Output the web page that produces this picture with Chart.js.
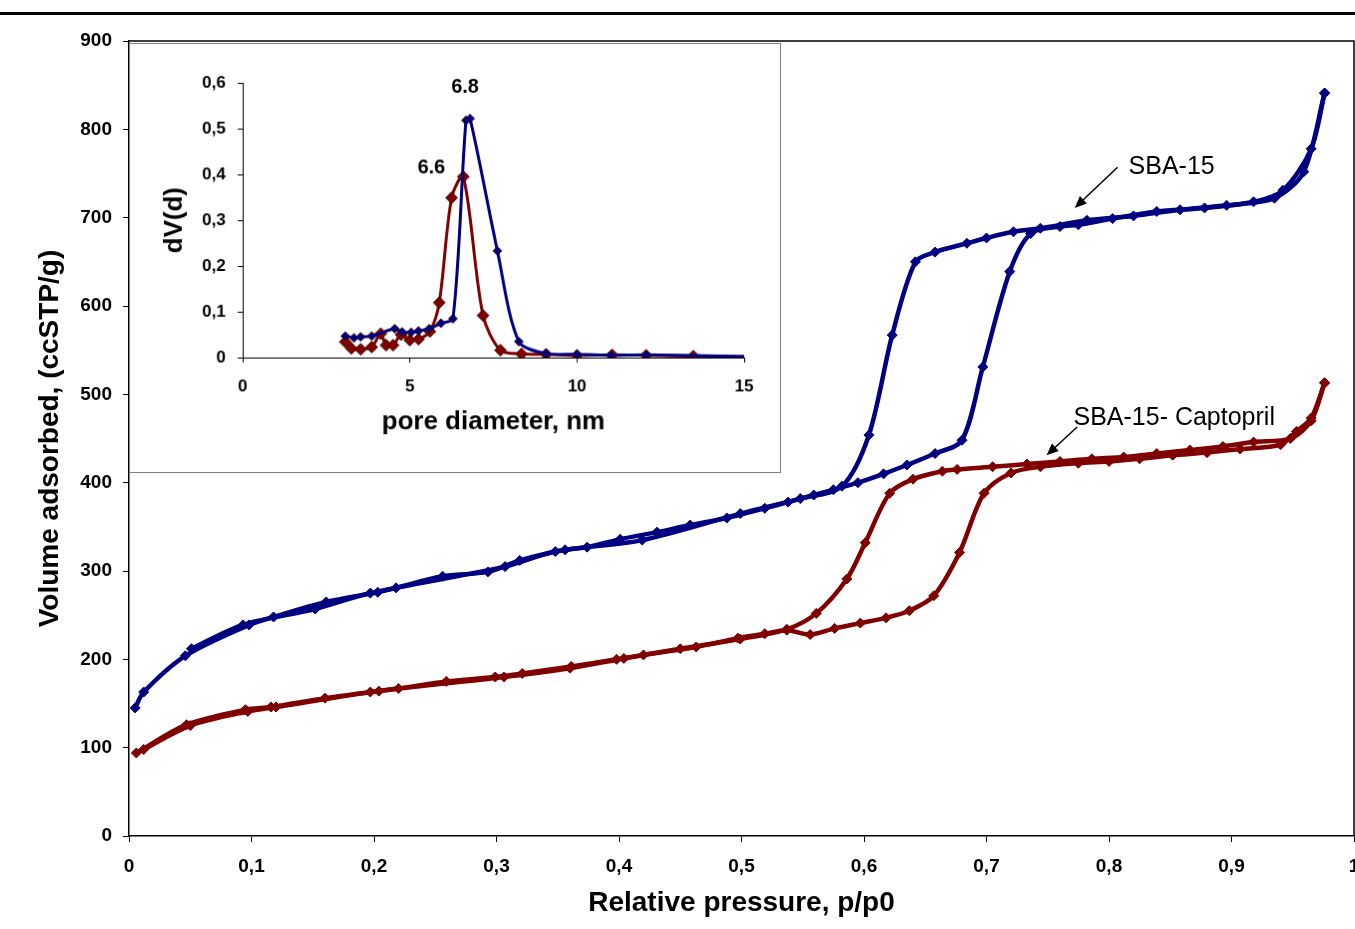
<!DOCTYPE html>
<html>
<head>
<meta charset="utf-8">
<title>N2 isotherms SBA-15</title>
<script src="https://cdn.jsdelivr.net/npm/chart.js@4.4.0/dist/chart.umd.min.js"></script>
<style>
  html, body { margin: 0; padding: 0; background: #fff; }
  #wrap { position: relative; width: 1355px; height: 929px; overflow: hidden; }
  #rule { position: absolute; left: 0; top: 12px; width: 1355px; height: 3px; background: #000; }
  #main { position: absolute; left: 0; top: 0; }
  #inset { position: absolute; left: 129px; top: 43px; background: #fff; border: 1px solid #808080; }
</style>
</head>
<body>
<div id="wrap">
  <div id="rule"></div>
  <canvas id="main" width="1360" height="929"></canvas>
  <canvas id="inset" width="652" height="430"></canvas>
</div>
<script>
// isotherms: relative pressure p/p0 vs volume adsorbed (ccSTP/g)
const sbaAdsP = [0.005, 0.012, 0.046, 0.098, 0.118, 0.161, 0.203, 0.218, 0.256, 0.293, 0.319, 0.356, 0.374, 0.401, 0.431, 0.458, 0.488, 0.519, 0.538, 0.559, 0.575, 0.595, 0.616, 0.635, 0.658, 0.680, 0.697, 0.719, 0.736, 0.760, 0.775, 0.803, 0.839, 0.878, 0.918, 0.942, 0.965, 0.976];
const sbaAdsV = [145, 163, 204, 239, 248, 265, 276, 281, 294, 299, 312, 324, 327, 336, 344, 352, 360, 371, 378, 386, 392, 400, 410, 420, 433, 448, 531, 639, 682, 690, 692, 699, 707, 711, 718, 731, 778, 841];
const sbaDesP = [0.976, 0.959, 0.935, 0.896, 0.858, 0.820, 0.782, 0.744, 0.722, 0.700, 0.684, 0.658, 0.642, 0.623, 0.604, 0.582, 0.548, 0.499, 0.419, 0.348, 0.307, 0.197, 0.152, 0.093, 0.051];
const sbaDesV = [841, 752, 722, 714, 709, 702, 697, 688, 684, 677, 671, 661, 650, 567, 454, 396, 382, 365, 335, 322, 305, 275, 257, 239, 212];

const capAdsP = [0.006, 0.047, 0.095, 0.116, 0.160, 0.197, 0.220, 0.259, 0.299, 0.321, 0.361, 0.398, 0.420, 0.463, 0.497, 0.519, 0.537, 0.556, 0.576, 0.597, 0.618, 0.637, 0.657, 0.678, 0.698, 0.720, 0.744, 0.775, 0.800, 0.825, 0.852, 0.880, 0.907, 0.940, 0.953, 0.965, 0.976];
const capAdsV = [94, 126, 143, 146, 156, 163, 167, 175, 180, 184, 192, 200, 205, 214, 224, 229, 233, 228, 235, 241, 247, 255, 272, 321, 388, 411, 418, 422, 424, 427, 431, 434, 438, 443, 458, 473, 513];
const capDesP = [0.976, 0.965, 0.948, 0.918, 0.893, 0.866, 0.839, 0.812, 0.786, 0.760, 0.733, 0.705, 0.676, 0.664, 0.640, 0.621, 0.601, 0.586, 0.561, 0.537, 0.499, 0.450, 0.404, 0.360, 0.306, 0.204, 0.120, 0.097, 0.050, 0.012];
const capDesV = [513, 470, 450, 446, 441, 437, 433, 429, 427, 424, 421, 418, 415, 413, 404, 388, 332, 291, 252, 234, 223, 212, 201, 190, 180, 164, 146, 141, 125, 98];

// pore size distribution: pore diameter (nm) vs dV(d)
const sbaPoreD = [3.07, 3.33, 3.53, 3.86, 4.55, 4.77, 5.04, 5.26, 5.58, 5.93, 6.29, 6.68, 6.8, 7.62, 8.26, 9.06, 10.0, 11.0, 12.07, 15];
const sbaPoreV = [0.047, 0.043, 0.045, 0.047, 0.063, 0.056, 0.055, 0.058, 0.063, 0.075, 0.085, 0.518, 0.522, 0.233, 0.035, 0.009, 0.007, 0.005, 0.006, 0.002];
const capPoreD = [3.07, 3.25, 3.53, 3.86, 4.13, 4.29, 4.50, 4.74, 5.00, 5.26, 5.60, 5.88, 6.25, 6.6, 7.19, 7.71, 8.34, 9.08, 10.0, 11.05, 12.07, 13.48, 15];
const capPoreV = [0.034, 0.020, 0.018, 0.023, 0.052, 0.027, 0.027, 0.050, 0.038, 0.040, 0.057, 0.120, 0.349, 0.395, 0.092, 0.016, 0.008, 0.007, 0.005, 0.006, 0.005, 0.003, 0.002];

const BLUE = '#000080';
const RED = '#800000';
const FONT = "'Liberation Sans', Arial, sans-serif";

const pts = (xs, ys) => xs.map((x, i) => ({ x, y: ys[i] }));
const comma = v => String(Math.round(v * 10) / 10).replace('.', ',');

// arrows with text pointing at the curves (data units)
const notes = [
    { text: 'SBA-15', tx: 0.816, ty: 757, from: [0.807, 757], to: [0.772, 711] },
    { text: 'SBA-15- Captopril', tx: 0.771, ty: 473, from: [0.774, 463], to: [0.749, 431] }
];

const branch = (label, xs, ys, color) => ({
    label, data: pts(xs, ys), showLine: true,
    borderColor: color, backgroundColor: color, borderWidth: 4.5, tension: 0.3,
    pointStyle: 'rectRot', pointRadius: 5, pointHoverRadius: 5, pointBorderWidth: 1
});

const framePlugin = {
    id: 'frame',
    afterDraw(chart) {
        const { ctx, chartArea: a, scales } = chart;
        ctx.save();
        ctx.strokeStyle = '#000';
        ctx.lineWidth = 1.5;
        ctx.beginPath();
        ctx.moveTo(a.left, a.top);
        ctx.lineTo(a.right, a.top);
        ctx.lineTo(a.right, a.bottom);
        ctx.stroke();

        // annotation arrows
        ctx.fillStyle = '#000';
        ctx.lineWidth = 1.5;
        ctx.font = '25px ' + FONT;
        ctx.textBaseline = 'middle';
        notes.forEach(n => {
            const x1 = scales.x.getPixelForValue(n.from[0]);
            const y1 = scales.y.getPixelForValue(n.from[1]);
            const x2 = scales.x.getPixelForValue(n.to[0]);
            const y2 = scales.y.getPixelForValue(n.to[1]);
            const ang = Math.atan2(y2 - y1, x2 - x1);
            const head = 13;
            ctx.beginPath();
            ctx.moveTo(x1, y1);
            ctx.lineTo(x2 - Math.cos(ang) * head * 0.8, y2 - Math.sin(ang) * head * 0.8);
            ctx.stroke();
            ctx.beginPath();
            ctx.moveTo(x2, y2);
            ctx.lineTo(x2 - head * Math.cos(ang - 0.4), y2 - head * Math.sin(ang - 0.4));
            ctx.lineTo(x2 - head * Math.cos(ang + 0.4), y2 - head * Math.sin(ang + 0.4));
            ctx.closePath();
            ctx.fill();
            ctx.fillText(n.text, scales.x.getPixelForValue(n.tx), scales.y.getPixelForValue(n.ty));
        });
        ctx.restore();
    }
};

new Chart(document.getElementById('main'), {
    type: 'scatter',
    data: {
        datasets: [
            branch('SBA-15 ads', sbaAdsP, sbaAdsV, BLUE),
            branch('SBA-15 des', sbaDesP, sbaDesV, BLUE),
            branch('SBA-15- Captopril ads', capAdsP, capAdsV, RED),
            branch('SBA-15- Captopril des', capDesP, capDesV, RED)
        ]
    },
    options: {
        responsive: false,
        animation: false,
        layout: { padding: { top: 41, right: 1, left: 0, bottom: 0 } },
        plugins: { legend: { display: false }, tooltip: { enabled: false } },
        scales: {
            x: {
                type: 'linear', min: 0, max: 1,
                ticks: { stepSize: 0.1, color: '#000', padding: 13, maxRotation: 0, autoSkip: false,
                         font: { family: FONT, size: 19, weight: 'bold' }, callback: comma },
                grid: { drawOnChartArea: false, drawTicks: true, tickLength: 6, color: '#000' },
                border: { color: '#000', width: 1.5 },
                title: { display: true, text: 'Relative pressure, p/p0', color: '#000',
                         font: { family: FONT, size: 28, weight: 'bold' }, padding: { top: 0, bottom: 9 } },
                afterFit: s => { s.height = 93; s.paddingLeft = 0; s.paddingRight = 0; }
            },
            y: {
                type: 'linear', min: 0, max: 900,
                ticks: { stepSize: 100, color: '#000', padding: 11,
                         font: { family: FONT, size: 19, weight: 'bold' } },
                grid: { drawOnChartArea: false, drawTicks: true, tickLength: 6, color: '#000' },
                border: { color: '#000', width: 1.5 },
                title: { display: true, text: 'Volume adsorbed, (ccSTP/g)', color: '#000',
                         font: { family: FONT, size: 28, weight: 'bold' }, padding: { top: 33, bottom: 0 } },
                afterFit: s => { s.width = 129; s.paddingTop = 0; s.paddingBottom = 0; }
            }
        }
    },
    plugins: [framePlugin]
});

// peak position labels on the pore size curves
const peakPlugin = {
    id: 'peaks',
    afterDatasetsDraw(chart) {
        const { ctx, scales } = chart;
        ctx.save();
        ctx.fillStyle = '#000';
        ctx.font = 'bold 20px ' + FONT;
        ctx.textAlign = 'center';
        ctx.textBaseline = 'middle';
        chart.data.datasets.forEach(ds => {
            const top = ds.data.reduce((m, p) => (p.y > m.y ? p : m), ds.data[0]);
            const x = scales.x.getPixelForValue(top.x) + ds.peakDx;
            const y = scales.y.getPixelForValue(top.y) + ds.peakDy;
            ctx.fillText(top.x.toFixed(1), x, y);
        });
        ctx.restore();
    }
};

const poreSet = (label, xs, ys, color, r, dx, dy) => ({
    label, data: pts(xs, ys), showLine: true,
    borderColor: color, backgroundColor: color, borderWidth: 3, tension: 0.3,
    pointStyle: 'rectRot', pointBorderColor: '#3a0000', pointBorderWidth: 0.8,
    pointRadius: ctx => (ctx.dataIndex === xs.length - 1 ? 0 : r), pointHoverRadius: r,
    peakDx: dx, peakDy: dy
});

new Chart(document.getElementById('inset'), {
    type: 'scatter',
    data: {
        datasets: [
            poreSet('SBA-15', sbaPoreD, sbaPoreV, BLUE, 4.5, -5, -31),
            poreSet('SBA-15- Captopril', capPoreD, capPoreV, RED, 6, -32, -9)
        ]
    },
    options: {
        responsive: false,
        animation: false,
        layout: { padding: { top: 39, right: 36, left: 0, bottom: 0 } },
        plugins: { legend: { display: false }, tooltip: { enabled: false } },
        scales: {
            x: {
                type: 'linear', min: 0, max: 15,
                ticks: { stepSize: 5, color: '#000', padding: 14, maxRotation: 0,
                         font: { family: FONT, size: 17, weight: 'bold' } },
                grid: { drawOnChartArea: false, drawTicks: true, tickLength: 5, color: '#000' },
                border: { color: '#000', width: 1 },
                title: { display: true, text: 'pore diameter, nm', color: '#000',
                         font: { family: FONT, size: 26, weight: 'bold' }, padding: { top: 0, bottom: 35 } },
                afterFit: s => { s.height = 115; s.paddingLeft = 0; s.paddingRight = 0; }
            },
            y: {
                type: 'linear', min: 0, max: 0.6,
                ticks: { stepSize: 0.1, color: '#000', padding: 12, callback: comma,
                         font: { family: FONT, size: 17, weight: 'bold' } },
                grid: { drawOnChartArea: false, drawTicks: true, tickLength: 5, color: '#000' },
                border: { color: '#000', width: 1 },
                title: { display: true, text: 'dV(d)', color: '#000',
                         font: { family: FONT, size: 26, weight: 'bold' }, padding: { top: 29, bottom: 0 } },
                afterFit: s => { s.width = 113; s.paddingTop = 0; s.paddingBottom = 0; }
            }
        }
    },
    plugins: [peakPlugin]
});
</script>
</body>
</html>
